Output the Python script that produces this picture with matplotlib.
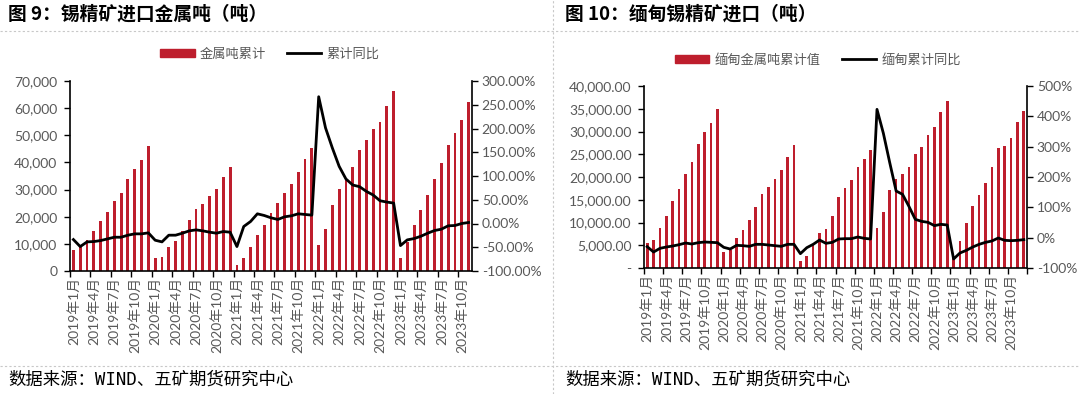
import numpy as np
import matplotlib.pyplot as plt
from matplotlib.lines import Line2D
from matplotlib.patches import Patch
from matplotlib.ticker import FuncFormatter

plt.rcParams['font.family'] = ['Noto Sans CJK SC', 'DejaVu Sans']
plt.rcParams['axes.unicode_minus'] = False

# months: 2019-01 .. 2023-11 (left), 2019-01 .. 2023-12 (right)
years = [2019, 2020, 2021, 2022, 2023]
months_all = ['%d年%d月' % (y, m) for y in years for m in range(1, 13)]

# 图9 锡精矿进口金属吨累计 (吨)
tin_cum = [7700, 9000, 11600, 14800, 18500, 21700, 25900, 28900, 34000, 37700, 40900, 46100,
           4700, 5200, 8900, 11100, 14800, 18700, 22700, 24700, 27600, 30300, 34500, 38200,
           2200, 4900, 8900, 13300, 17100, 21200, 24900, 28600, 32100, 36600, 41200, 45400,
           9400, 15500, 24400, 30300, 34000, 38500, 44600, 48300, 52300, 55000, 60700, 66300,
           4900, 10600, 17000, 22400, 27900, 34000, 39900, 46600, 50800, 55700, 62400]
# 累计同比 (%)
tin_yoy = [-33.8, -48.6, -38.7, -38.0, -35.9, -32.4, -28.9, -28.9, -24.6, -21.8, -21.8, -19.7,
           -35.2, -38.7, -24.6, -24.6, -20.4, -15.5, -13.4, -15.5, -18.3, -20.4, -16.9, -18.3,
           -48.6, -6.3, 4.2, 20.4, 16.9, 12.0, 8.5, 14.1, 16.2, 20.4, 19.0, 17.6,
           266.9, 201.4, 159.2, 120.4, 93.7, 81.0, 77.5, 67.6, 59.9, 47.9, 45.1, 43.0,
           -46.5, -34.5, -31.7, -26.8, -20.4, -14.8, -12.0, -4.9, -4.2, 0.0, 2.1]

# 图10 缅甸金属吨累计值 (吨)
mm_cum = [5500, 6100, 8700, 11400, 14700, 17300, 20700, 23300, 27200, 30000, 31900, 35000,
          3600, 4000, 6600, 8300, 10500, 13400, 16200, 17700, 19600, 21600, 24500, 27000,
          1600, 2700, 5000, 7700, 8600, 11400, 15600, 17600, 19400, 22100, 24000, 26000,
          8700, 12200, 17200, 19600, 20700, 22200, 25000, 26700, 29200, 31000, 34200, 36600,
          2100, 6000, 10000, 13600, 16000, 18600, 22200, 26400, 26900, 28600, 32100, 34600]
# 缅甸累计同比 (%)
mm_yoy = [-29.7, -47.3, -35.2, -30.8, -27.5, -23.1, -17.6, -20.9, -16.5, -14.3, -15.4, -16.5,
          -31.9, -37.4, -25.3, -26.4, -28.6, -22.0, -22.0, -24.2, -26.4, -28.6, -22.0, -22.0,
          -52.7, -33.0, -22.0, -7.7, -18.7, -15.4, -4.4, -3.3, -3.3, 2.2, -2.2, -4.4,
          423.0, 344.0, 247.0, 153.8, 142.9, 103.3, 60.4, 53.8, 50.5, 39.6, 44.0, 41.8,
          -70.3, -50.5, -41.8, -30.8, -22.0, -15.4, -11.0, -1.1, -8.8, -9.9, -8.8, -6.6]

BAR = '#BE1E2D'
GREY = '#595959'
TICKFONT = ['Lato', 'Noto Sans CJK SC']
W, H = 1080, 394

fig = plt.figure(figsize=(W / 100, H / 100), dpi=100)


def px_axes(x0, x1, y_top, y_bot):
    return fig.add_axes([x0 / W, 1 - y_bot / H, (x1 - x0) / W, (y_bot - y_top) / H])


def style_labels(labels):
    for t in labels:
        t.set_family(TICKFONT)
        t.set_fontsize(10)
        t.set_color(GREY)


def panel(ax, vals, yoy, ymax, ystep, yfmt, rlim, rstep, rfmt, bar_lab, line_lab, leg_xy):
    n = len(vals)
    x = np.arange(n)
    ax.bar(x, vals, width=0.42, color=BAR, zorder=2)
    ax.set_xlim(-0.5, n - 0.5)
    ax.set_ylim(0, ymax)
    ax.set_yticks(np.arange(0, ymax + 1, ystep))
    ax.yaxis.set_major_formatter(FuncFormatter(yfmt))
    ax.set_xticks(np.arange(-0.5, n + 0.1, 3))
    ax.set_xticklabels([])
    ax.set_xticks(x[::3], minor=True)
    ax.set_xticklabels([months_all[i] for i in x[::3]], minor=True, rotation=90)
    ax.tick_params(axis='x', which='major', length=4, width=1, direction='out')
    ax.tick_params(axis='x', which='minor', length=0, pad=4)
    ax.tick_params(axis='y', length=4, width=1, pad=5)
    ax.spines['top'].set_visible(False)
    ax.spines['right'].set_visible(False)
    for s in ('left', 'bottom'):
        ax.spines[s].set_linewidth(1.2)

    ax2 = ax.twinx()
    ax2.plot(x, yoy, color='black', lw=2, zorder=3)
    ax2.set_ylim(*rlim)
    ax2.set_yticks(np.arange(rlim[0], rlim[1] + 1, rstep))
    ax2.yaxis.set_major_formatter(FuncFormatter(rfmt))
    ax2.tick_params(axis='y', length=4, width=1, pad=3)
    ax2.spines['top'].set_visible(False)
    ax2.spines['left'].set_visible(False)
    ax2.spines['bottom'].set_visible(False)
    ax2.spines['right'].set_linewidth(1.2)

    fig.canvas.draw()
    style_labels(ax.get_xticklabels(minor=True))
    style_labels(ax.get_yticklabels())
    style_labels(ax2.get_yticklabels())

    handles = [Patch(color=BAR), Line2D([], [], color='black', lw=2)]
    fig.legend(handles, [bar_lab, line_lab], loc='center', ncol=2, frameon=False,
               bbox_to_anchor=(leg_xy[0] / W, 1 - leg_xy[1] / H), fontsize=9.5,
               labelcolor=GREY, handlelength=2.6, handleheight=0.5, columnspacing=1.6,
               handletextpad=0.4)


ax_l = px_axes(70, 472, 81, 271)
panel(ax_l, tin_cum, tin_yoy, 70000, 10000, lambda v, p: '{:,.0f}'.format(v),
      (-100, 300), 50, lambda v, p: '{:.2f}%'.format(v),
      '金属吨累计', '累计同比', (270, 54))

ax_r = px_axes(644, 1027, 86, 268)
panel(ax_r, mm_cum, mm_yoy, 40000, 5000,
      lambda v, p: '-' if v == 0 else '{:,.2f}'.format(v),
      (-100, 500), 100, lambda v, p: '{:.0f}%'.format(v),
      '缅甸金属吨累计值', '缅甸累计同比', (818, 60))

# titles and sources
fig.text(8 / W, 1 - 14 / H, '图 9：锡精矿进口金属吨（吨）', fontsize=13.5, fontweight='bold',
         va='center', ha='left')
fig.text(565 / W, 1 - 14 / H, '图 10：缅甸锡精矿进口（吨）', fontsize=13.5, fontweight='bold',
         va='center', ha='left')
src = '数据来源：WIND、五矿期货研究中心'
for sx in (8, 565):
    fig.text(sx / W, 1 - 380 / H, src, fontsize=12.5, va='center', ha='left',
             family=['DejaVu Sans Mono', 'Noto Sans CJK SC'])

# dotted separators
sep = dict(color='#C8C8C8', lw=0.8, ls=(0, (2, 2)))
fig.add_artist(Line2D([0, 1], [1 - 31 / H, 1 - 31 / H], transform=fig.transFigure, **sep))
fig.add_artist(Line2D([0, 1], [1 - 366 / H, 1 - 366 / H], transform=fig.transFigure, **sep))
fig.add_artist(Line2D([553 / W, 553 / W], [0, 1], transform=fig.transFigure, **sep))

fig.savefig('out.png', dpi=100)
